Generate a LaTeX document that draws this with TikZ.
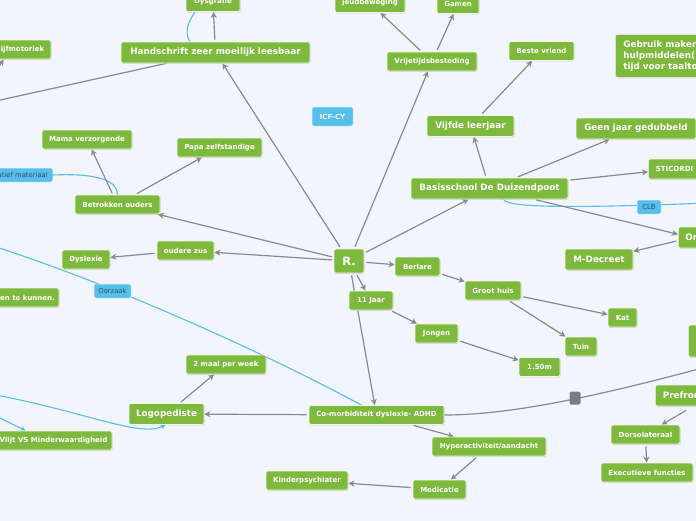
\documentclass[tikz,border=0pt]{standalone}
\usepackage{fontspec}
\setmainfont{DejaVu Sans}
\usetikzlibrary{arrows.meta,shadows}
\definecolor{bgc}{HTML}{F2F5FD}
\definecolor{gr}{HTML}{7DB93C}
\definecolor{bl}{HTML}{56BFEC}
\definecolor{ln}{HTML}{8A8A8A}
\definecolor{bt}{HTML}{2E4F6B}
\pgfdeclarelayer{back}
\pgfsetlayers{back,main}
\begin{document}
\begin{tikzpicture}[x=1pt,y=-1pt,
 gbox/.style={fill=gr, draw=white!90!gr, line width=0.7pt, rounded corners=2pt, text=white,
   font=\bfseries\fontsize{7}{8}\selectfont, minimum height=19pt, inner sep=2pt,
   drop shadow={shadow xshift=0.6pt, shadow yshift=-0.9pt, opacity=0.3}},
 gbig/.style={gbox, font=\bfseries\fontsize{8.8}{11}\selectfont, minimum height=21pt},
 bbox/.style={fill=bl, draw=white!80!bl, line width=0.5pt, rounded corners=2pt, text=bt,
   font=\fontsize{6.8}{8}\selectfont, minimum height=14pt, inner sep=2pt},
 conn/.style={draw=ln, line width=1.2pt, -{Stealth[length=6pt,width=6pt,inset=1.8pt]}, shorten <=2pt},
 plainln/.style={draw=ln, line width=1.2pt},
 blink/.style={draw=bl, line width=1.1pt},
 bconn/.style={blink, -{Stealth[length=5pt,width=5pt,inset=1.5pt]}},
 sqr/.style={fill=ln!90!black, rounded corners=1.5pt, minimum width=11pt, minimum height=13pt, inner sep=0pt},
]
\useasboundingbox (0,0) rectangle (696,520);

% green nodes, small
\node[gbox, minimum width=54pt] (dysg) at (213,2) {Dysgrafie};
\node[gbox, minimum width=57pt] (ijf) at (22.5,49.5) {ijfmotoriek};
\node[gbox, minimum width=70pt] (jeud) at (370,3) {jeudbeweging};
\node[gbox, minimum width=42pt] (gamen) at (458,4) {Gamen};
\node[gbox, minimum width=90pt] (vrij) at (432,61.5) {Vrijetijdsbesteding};
\node[gbox, minimum width=65pt] (beste) at (541.5,51) {Beste vriend};
\node[gbox, minimum width=90pt] (mama) at (87,139.5) {Mama verzorgende};
\node[gbox, minimum width=85pt] (papa) at (219.5,147.5) {Papa zelfstandige};
\node[gbox, minimum width=85pt] (betr) at (117.5,204.5) {Betrokken ouders};
\node[gbox, minimum width=57pt] (zus) at (185.5,250.5) {oudere zus};
\node[gbox, minimum width=48pt] (dysl) at (86,259.5) {Dyslexie};
\node[gbox, minimum width=63pt] (kunnen) at (27.5,297.5) {en te kunnen.};
\node[gbox, minimum width=45pt] (berl) at (417.5,266.5) {Berlare};
\node[gbox, minimum width=56pt] (groot) at (493,290.5) {Groot huis};
\node[gbox, minimum width=29pt] (kat) at (622.5,317.5) {Kat};
\node[gbox, minimum width=32pt] (tuin) at (581,346.5) {Tuin};
\node[gbox, minimum width=44pt] (jaar) at (371,300.5) {11 Jaar};
\node[gbox, minimum width=43pt] (jongen) at (436.5,333.5) {Jongen};
\node[gbox, minimum width=41pt] (m150) at (539.5,367) {1.50m};
\node[gbox, minimum width=80pt] (week) at (226,364.5) {2 maal per week};
\node[gbox, minimum width=135pt] (comorb) at (376.5,415) {Co-morbiditeit dyslexie- ADHD};
\node[gbox, minimum width=114pt] (hyper) at (489,446.5) {Hyperactiviteit/aandacht};
\node[gbox, minimum width=53pt] (medi) at (439.5,489.5) {Medicatie};
\node[gbox, minimum width=82pt] (kinder) at (307,480.5) {Kinderpsychiater};
\node[gbox, minimum width=69pt] (dors) at (645.5,434.5) {Dorsolateraal};
\node[gbox, minimum width=92pt] (exec) at (647,472.5) {Executieve functies};
\node[gbox, minimum width=117pt] (vlijt) at (53.5,440.5) {Vlijt VS Minderwaardigheid};
\node[gbox, anchor=west, inner xsep=7.5pt, minimum height=20pt] (sticordi) at (648,169) {STICORDI};
\node[gbox, anchor=west, minimum width=20pt, minimum height=32pt] (rbox) at (688,341) {};

% green nodes, big
\node[gbig, minimum width=189pt] (hand) at (215.5,52.5) {Handschrift zeer moeilijk leesbaar};
\node[gbig, minimum width=87pt] (vijf) at (470.5,126) {Vijfde leerjaar};
\node[gbig, minimum width=120pt] (geen) at (636,128.5) {Geen jaar gedubbeld};
\node[gbig, minimum width=157pt] (basis) at (489.5,188.5) {Basisschool De Duizendpoot};
\node[gbig, minimum width=68pt] (mdec) at (599,259.5) {M-Decreet};
\node[gbig, minimum width=75pt] (logo) at (166.5,414) {Logopediste};
\node[gbig, anchor=west, inner xsep=7pt] (or) at (678,237.5) {Or};
\node[gbig, anchor=west, inner xsep=7.5pt] (pref) at (655,395.5) {Prefron};
\node[gbig, anchor=north west, align=left, inner xsep=8pt, minimum height=43pt] (gebr) at (615,34)
  {Gebruik maken\\hulpmiddelen(\\tijd voor taalto};
\node[gbox, font=\bfseries\fontsize{11.5}{13}\selectfont, minimum width=30pt, minimum height=24pt] (R) at (349,261) {R.};

% blue nodes
\node[bbox, minimum width=41pt, minimum height=19pt, text=white, font=\bfseries\fontsize{7}{8}\selectfont] (icf) at (332.5,116.5) {ICF-CY};
\node[bbox, anchor=east, inner xsep=5pt] (mat) at (53,175) {atief materiaal};

% free ends
\coordinate (lf1) at (-20,104.5);
\coordinate (lf2) at (-10,80);
\coordinate (lf3) at (-10,245);
\coordinate (lf4) at (-10,394);
\coordinate (lf5) at (-10,413);
\coordinate (lf6) at (710,203);
\coordinate (lf7) at (710,366);

\begin{pgfonlayer}{back}
\fill[bgc] (-30,-30) rectangle (740,550);
% blue links
\path[blink] ([xshift=-25.5pt]hand.north) .. controls +(-7,-11) and +(-5,8) .. ([xshift=-18pt]dysg.south);
\path[blink] (mat.east) .. controls +(45,-2) and +(0,-14) .. (betr.north);
\path[blink] ([xshift=-15pt]comorb.north) .. controls (250,345) and (100,280) .. (lf3);
\path[bconn] (lf4) .. controls (80,410) and (140,438) .. ([xshift=-1pt]logo.south);
\path[bconn] (lf5) -- ([xshift=31pt]vlijt.north west);
\path[blink] ([xshift=14pt]basis.south) .. controls +(3,10) and (600,207) .. (lf6);
% gray links
\path[conn] (R) -- (hand);
\path[conn] (R) -- (vrij);
\path[conn] (R) -- (basis);
\path[conn] (R) -- (betr);
\path[conn] (R) -- (zus);
\path[conn] (R) -- (berl);
\path[conn] (R) -- (jaar);
\path[conn] (R) -- (comorb);
\path[conn] (hand) -- (dysg);
\path[plainln] (hand) -- (lf1);
\path[conn] (lf2) -- ([xshift=10pt]ijf.south west);
\path[conn] (vrij) -- (jeud);
\path[conn] (vrij) -- (gamen);
\path[conn] (vijf) -- (beste);
\path[conn] (basis) -- (vijf);
\path[conn] (basis) -- (geen);
\path[conn] (basis) -- (sticordi);
\path[conn] (basis) -- (or);
\path[conn] (or) -- (mdec);
\path[conn] (berl) -- (groot);
\path[conn] (groot) -- (kat);
\path[conn] (groot) -- (tuin);
\path[conn] (jaar) -- (jongen);
\path[conn] (jongen) -- (m150);
\path[conn] (comorb) -- (logo);
\path[conn] (logo) -- (week);
\path[conn] (comorb) -- (hyper);
\path[conn] (hyper) -- (medi);
\path[conn] (medi) -- (kinder);
\path[conn] ([xshift=33pt,yshift=-3pt]pref.south west) -- ([xshift=51pt]dors.north west);
\path[conn] (dors) -- (exec);
\path[conn] (betr) -- (mama);
\path[conn] (betr) -- (papa);
\path[conn] (zus) -- (dysl);
\path[plainln] (comorb.east) .. controls (520,415) and (620,390) .. (lf7);
\end{pgfonlayer}

\node[sqr] (sq) at (575,398) {};
\node[bbox, minimum width=37pt] (oorz) at (112.5,291) {Oorzaak};
\node[bbox, minimum width=24pt] (clb) at (649,207) {CLB};
\end{tikzpicture}
\end{document}
